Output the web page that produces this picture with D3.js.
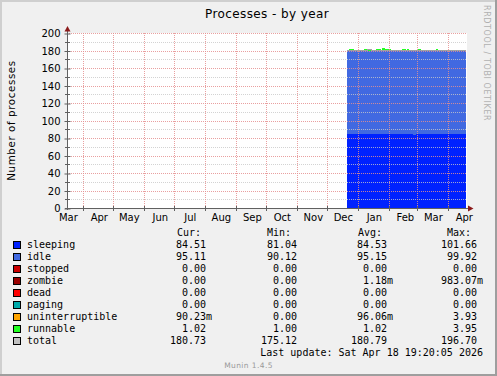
<!DOCTYPE html>
<html>
<head>
<meta charset="utf-8">
<script src="https://cdn.jsdelivr.net/npm/d3@7"></script>
<style>
  body { margin: 0; background: #f0f0f0; }
  svg { display: block; }
  text { font-family: "DejaVu Sans", sans-serif; }
  .mono { font-family: "DejaVu Sans Mono", monospace; font-size: 10px; }
</style>
</head>
<body>
<div id="chart"></div>
<script>
// samples (step after): each value holds until the next date
const days = ["2025-12-21", "2025-12-23", "2025-12-28", "2026-01-07", "2026-01-10",
  "2026-01-14", "2026-01-19", "2026-01-24", "2026-01-25", "2026-01-28", "2026-02-03",
  "2026-02-14", "2026-02-18", "2026-02-19", "2026-02-21", "2026-02-25", "2026-02-28",
  "2026-03-02", "2026-03-05", "2026-03-20", "2026-03-22", "2026-04-19"];
const sleeping = [84.6, 84.6, 84.6, 84.6, 84.6, 84.6, 84.6, 84.6, 84.6, 84.6, 84.6,
  84.6, 84.6, 84.6, 84.6, 83.2, 84.6, 84.6, 84.6, 84.6, 84.6, 84.5];
const idle = [95.1, 95.1, 95.1, 95.1, 95.1, 95.1, 95.1, 95.1, 95.1, 95.1, 95.1,
  95.1, 95.1, 95.1, 95.1, 96.5, 95.1, 95.1, 95.1, 95.1, 95.1, 95.1];
const uninterruptible = [0.09, 0.09, 0.09, 0.09, 0.09, 0.09, 0.09, 0.09, 1.4, 0.09, 0.09,
  0.09, 0.09, 0.09, 0.09, 0.09, 0.09, 0.09, 0.09, 0.09, 0.09, 0.09];
const runnable = [1.02, 2.1, 1.02, 2.1, 1.02, 1.02, 2.1, 1.02, 2.1, 2.1, 1.02,
  2.1, 1.02, 2.1, 1.02, 1.02, 1.02, 2.1, 1.02, 2.1, 1.02, 1.02];
const total = [180.8, 180.8, 180.8, 180.8, 181.8, 180.8, 180.8, 180.8, 180.8, 180.8, 180.8,
  180.8, 180.8, 180.8, 180.8, 180.8, 180.8, 180.8, 180.8, 180.8, 180.8, 180.7];

const yTicks = [0, 20, 40, 60, 80, 100, 120, 140, 160, 180, 200];
const yMinor = [10, 30, 50, 70, 90, 110, 130, 150, 170, 190];

// legend
const legendNames = ["sleeping", "idle", "stopped", "zombie", "dead", "paging",
  "uninterruptible", "runnable", "total"];
const legendColors = ["#0022ff", "#4169e1", "#cc0000", "#990000", "#ff0000", "#00aaaa",
  "#ffa500", "#22ff22", "#c0c0c0"];
const curVals = ["84.51", "95.11", "0.00", "0.00", "0.00", "0.00", "90.23m", "1.02", "180.73"];
const minVals = ["81.04", "90.12", "0.00", "0.00", "0.00", "0.00", "0.00", "1.00", "175.12"];
const avgVals = ["84.53", "95.15", "0.00", "1.18m", "0.00", "0.00", "96.06m", "1.02", "180.79"];
const maxVals = ["101.66", "99.92", "0.00", "983.07m", "0.00", "0.00", "3.93", "3.95", "196.70"];

const W = 497, H = 376;
const svg = d3.select("#chart").append("svg").attr("width", W).attr("height", H);

// frame with shading
svg.append("rect").attr("width", W).attr("height", H).attr("fill", "#f0f0f0");
svg.append("path").attr("d", `M0,0H${W}V2H2V${H}H0Z`).attr("fill", "#cfcfcf");
svg.append("path").attr("d", `M${W},${H}H0V${H - 2}H${W - 2}V0H${W}Z`).attr("fill", "#9e9e9e");

const x = d3.scaleTime()
  .domain([new Date(2025, 2, 15, 16), new Date(2026, 3, 19, 16)])
  .range([67, 467]);
const y = d3.scaleLinear().domain([0, 200]).range([208, 33]);

const px = v => Math.round(v) + 0.5;

// canvas
svg.append("rect").attr("x", 67).attr("y", 33).attr("width", 400).attr("height", 175)
  .attr("fill", "#fff");

// data
const parse = d3.timeParse("%Y-%m-%d");
const rows = days.map((d, i) => ({
  date: parse(d),
  sleeping: sleeping[i], idle: idle[i], stopped: 0, zombie: 0, dead: 0, paging: 0,
  uninterruptible: uninterruptible[i], runnable: runnable[i], total: total[i]
}));
const keys = legendNames.slice(0, 8);
const stack = d3.stack().keys(keys)(rows);

const area = d3.area()
  .curve(d3.curveStepAfter)
  .x(d => x(d.data.date))
  .y0(d => y(d[0]))
  .y1(d => y(d[1]));

svg.append("g").selectAll("path").data(stack).join("path")
  .attr("fill", (d, i) => legendColors[i])
  .attr("d", area)
  .attr("shape-rendering", "crispEdges");

// grid
const grid = svg.append("g").attr("stroke-width", 1).attr("fill", "none");
grid.selectAll(".minor").data(yMinor).join("line")
  .attr("x1", 67).attr("x2", 467)
  .attr("y1", d => px(y(d))).attr("y2", d => px(y(d)))
  .attr("stroke", "#c8c8c8").attr("stroke-dasharray", "1,1").attr("opacity", 0.8);
grid.selectAll(".major").data(yTicks.slice(1)).join("line")
  .attr("x1", 67).attr("x2", 467)
  .attr("y1", d => px(y(d))).attr("y2", d => px(y(d)))
  .attr("stroke", "#e58f8f").attr("stroke-dasharray", "1,1").attr("opacity", 0.85);

const monthStarts = d3.timeMonth.range(new Date(2025, 3, 1), new Date(2026, 3, 2));
grid.selectAll(".vmajor").data(monthStarts).join("line")
  .attr("x1", d => px(x(d))).attr("x2", d => px(x(d)))
  .attr("y1", 33).attr("y2", 208)
  .attr("stroke", "#e58f8f").attr("stroke-dasharray", "1,1").attr("opacity", 0.85);

// total line on top (LINE1, snapped to the pixel row below the value)
const line = d3.line()
  .curve(d3.curveStepAfter)
  .x(d => x(d.date))
  .y(d => Math.ceil(y(d.total)) + 0.5);
svg.append("path").datum(rows)
  .attr("fill", "none").attr("stroke", "#a0a0a0").attr("stroke-width", 1.4)
  .attr("shape-rendering", "crispEdges")
  .attr("d", line);

// y axis
const yAxis = d3.axisLeft(y).tickValues(yTicks).tickSize(3).tickPadding(4);
const gy = svg.append("g").attr("transform", "translate(67.5,0.5)").call(yAxis);
gy.select(".domain").remove();
gy.selectAll(".tick line").attr("stroke", "#606060").attr("x2", 3).attr("x1", -3);
gy.selectAll("text").attr("font-size", 10).attr("font-family", "DejaVu Sans").attr("fill", "#000");
svg.append("g").selectAll("line").data(yMinor).join("line")
  .attr("x1", 65).attr("x2", 70)
  .attr("y1", d => px(y(d))).attr("y2", d => px(y(d)))
  .attr("stroke", "#606060");

// x axis labels centered on mid month
const labelMonths = d3.timeMonth.range(new Date(2025, 2, 1), new Date(2026, 3, 2));
const xAxis = d3.axisBottom(x)
  .tickValues(labelMonths.map(d => d3.timeDay.offset(d, 15)))
  .tickFormat(d3.timeFormat("%b"))
  .tickSize(0).tickPadding(6);
const gx = svg.append("g").attr("transform", "translate(0.5,208)").call(xAxis);
gx.select(".domain").remove();
gx.selectAll("text").attr("font-size", 10).attr("font-family", "DejaVu Sans").attr("fill", "#000");
svg.append("g").selectAll("line").data(monthStarts).join("line")
  .attr("x1", d => px(x(d))).attr("x2", d => px(x(d)))
  .attr("y1", 206).attr("y2", 211).attr("stroke", "#606060");

// axis lines + arrows
svg.append("line").attr("x1", 67.5).attr("x2", 67.5).attr("y1", 210).attr("y2", 30)
  .attr("stroke", "#606060");
svg.append("line").attr("x1", 65).attr("x2", 470).attr("y1", 208.5).attr("y2", 208.5)
  .attr("stroke", "#606060");
svg.append("path").attr("d", "M64.5,31.5L67.5,26L70.5,31.5Z").attr("fill", "#8b1a1a");
svg.append("path").attr("d", "M468,205.5L473.5,208.5L468,211.5Z").attr("fill", "#8b1a1a");

// title, labels
svg.append("text").attr("x", 267).attr("y", 18).attr("text-anchor", "middle")
  .attr("font-size", 12).attr("letter-spacing", 0.4).text("Processes - by year");
svg.append("text").attr("transform", "translate(15,120.5) rotate(-90)")
  .attr("text-anchor", "middle").attr("font-size", 10.3).attr("letter-spacing", 0.6)
  .text("Number of processes");
svg.append("text").attr("transform", "translate(484,5) rotate(90)")
  .attr("font-size", 8).attr("letter-spacing", 0.6).attr("fill", "#b0b0b0")
  .text("RRDTOOL / TOBI OETIKER");

// legend
const headers = [["Cur:", 177], ["Min:", 267], ["Avg:", 358], ["Max:", 447]];
svg.append("g").selectAll("text").data(headers).join("text")
  .attr("class", "mono").attr("x", d => d[1]).attr("y", 236).text(d => d[0]);

const lg = svg.append("g");
const rowY = i => 248 + i * 12;
lg.selectAll("rect").data(legendColors).join("rect")
  .attr("x", 13.5).attr("y", (d, i) => rowY(i) - 6.5).attr("width", 7).attr("height", 7)
  .attr("fill", d => d).attr("stroke", "#000");
lg.selectAll(".name").data(legendNames).join("text")
  .attr("class", "mono").attr("x", 27).attr("y", (d, i) => rowY(i)).text(d => d);

const cols = [[curVals, 206], [minVals, 297], [avgVals, 387], [maxVals, 477]];
cols.forEach(([vals, edge]) => {
  vals.forEach((v, i) => {
    const unit = v.endsWith("m") ? "m" : "";
    const num = unit ? v.slice(0, -1) : v;
    lg.append("text").attr("class", "mono").attr("x", edge).attr("y", rowY(i))
      .attr("text-anchor", "end").text(num);
    if (unit) lg.append("text").attr("class", "mono").attr("x", edge).attr("y", rowY(i)).text(unit);
  });
});

svg.append("text").attr("class", "mono").attr("x", 483).attr("y", 356)
  .attr("text-anchor", "end").attr("xml:space", "preserve")
  .text("Last update: Sat Apr 18 19:20:05 2026");
svg.append("text").attr("x", 248.5).attr("y", 368).attr("text-anchor", "middle")
  .attr("font-size", 7.5).attr("letter-spacing", 0.4).attr("fill", "#999").text("Munin 1.4.5");
</script>
</body>
</html>
